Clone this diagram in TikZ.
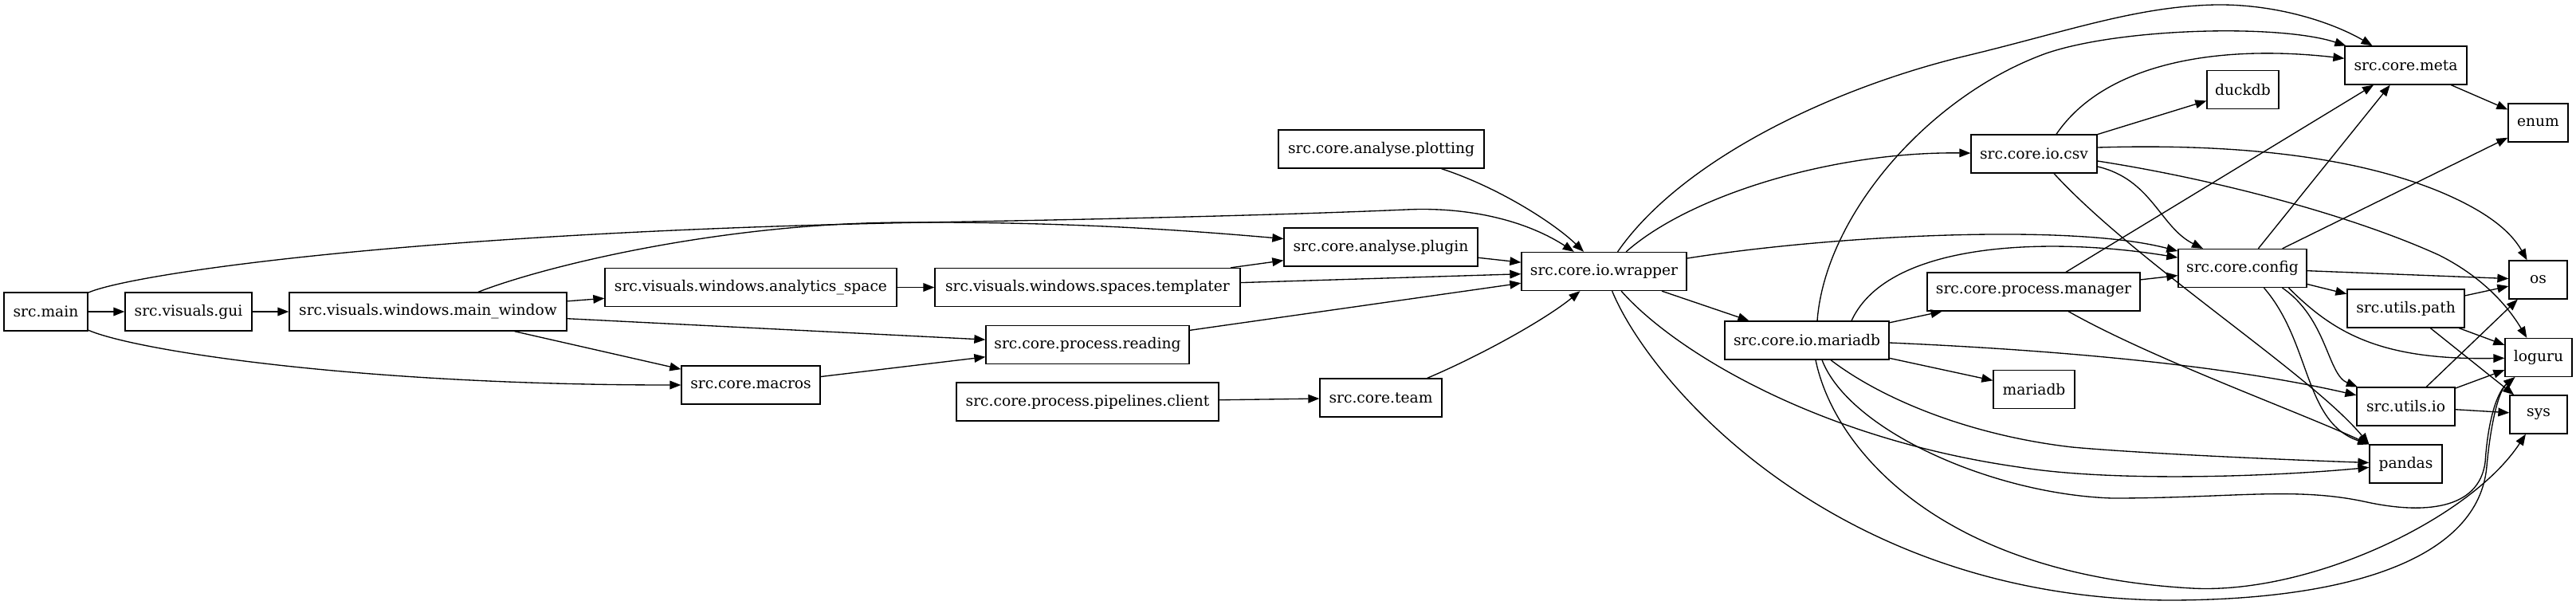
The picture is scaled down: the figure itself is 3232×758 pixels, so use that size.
\documentclass[tikz,border=0pt]{standalone}
\usepackage{fontspec}
\setmainfont{DejaVu Serif}
\usetikzlibrary{arrows.meta,calc}
\begin{document}
\begin{tikzpicture}[x=0.75pt,y=-0.75pt,
  box/.style={draw,line width=1pt,rectangle,minimum height=36pt,inner sep=0pt,font=\fontsize{14}{16}\selectfont},
  dep/.style={line width=1pt,-{Triangle[length=10.5pt,width=8pt]}}]
\useasboundingbox (0,0) rectangle (3232,758);
% nodes
\node[box,minimum width=78.75pt] (main) at (57.5,391) {src.main};
\node[box,minimum width=119.25pt] (gui) at (236.5,391) {src.visuals.gui};
\node[box,minimum width=261pt] (mainwin) at (537,391) {src.visuals.windows.main\_window};
\node[box,minimum width=274.5pt] (analytics) at (942,360.5) {src.visuals.windows.analytics\_space};
\node[box,minimum width=287.25pt] (templater) at (1364.5,360.5) {src.visuals.windows.spaces.templater};
\node[box,minimum width=191.25pt] (reading) at (1364.5,432.5) {src.core.process.reading};
\node[box,minimum width=130.5pt] (macros) at (942,483) {src.core.macros};
\node[box,minimum width=246.75pt] (client) at (1364.5,504) {src.core.process.pipelines.client};
\node[box,minimum width=193.5pt] (plotting) at (1733,187) {src.core.analyse.plotting};
\node[box,minimum width=182.25pt] (plugin) at (1732.5,310) {src.core.analyse.plugin};
\node[box,minimum width=155.25pt] (wrapper) at (2012.5,340.5) {src.core.io.wrapper};
\node[box,minimum width=114.75pt] (team) at (1732.5,499) {src.core.team};
\node[box,minimum width=118.5pt] (csv) at (2552,193) {src.core.io.csv};
\node[box,minimum width=200.25pt] (manager) at (2551.5,366) {src.core.process.manager};
\node[box,minimum width=154.5pt] (iomariadb) at (2267,427) {src.core.io.mariadb};
\node[box,minimum width=76.5pt] (mariadb) at (2552,488.5) {mariadb};
\node[box,minimum width=67.5pt] (duckdb) at (2814,112.5) {duckdb};
\node[box,minimum width=114.75pt] (meta) at (3018.5,82) {src.core.meta};
\node[box,minimum width=120.75pt] (config) at (2813.5,336.5) {src.core.config};
\node[box,minimum width=56.25pt] (enum) at (3184.5,154) {enum};
\node[box,minimum width=54.75pt] (os) at (3184.5,351) {os};
\node[box,minimum width=110.25pt] (path) at (3018.5,387) {src.utils.path};
\node[box,minimum width=63pt] (loguru) at (3185,448.5) {loguru};
\node[box,minimum width=92.25pt] (utilsio) at (3018.5,510) {src.utils.io};
\node[box,minimum width=54pt] (sys) at (3185,520) {sys};
\node[box,minimum width=68.25pt] (pandas) at (3018.5,582) {pandas};
% edges
\draw[dep] (main) -- (gui);
\draw[dep] (gui) -- (mainwin);
\draw[dep] (main) .. controls (160,345) and (500,292) .. (1159,279) .. controls (1450,274) and (1650,268) .. (1764,263) .. controls (1850,259) and (1920,280) .. (wrapper);
\draw[dep] (main) .. controls (170,440) and (450,483) .. (macros);
\draw[dep] (mainwin) -- (analytics);
\draw[dep] (mainwin) .. controls (680,335) and (900,280) .. (1134,279) .. controls (1350,278) and (1500,290) .. (plugin);
\draw[dep] (mainwin) -- (reading);
\draw[dep] (mainwin) -- (macros);
\draw[dep] (analytics) -- (templater);
\draw[dep] (templater) -- (plugin);
\draw[dep] (templater) -- (wrapper);
\draw[dep] (macros) -- (reading);
\draw[dep] (reading) -- (wrapper);
\draw[dep] (plotting) .. controls (1880,235) and (1950,280) .. (wrapper);
\draw[dep] (plugin) -- (wrapper);
\draw[dep] (client) -- (team);
\draw[dep] (team) .. controls (1860,445) and (1940,400) .. (wrapper);
\draw[dep] (wrapper) .. controls (2120,245) and (2300,190) .. (csv);
\draw[dep] (wrapper) .. controls (2110,200) and (2300,110) .. (2467,70) .. controls (2592,40) and (2680,8) .. (2780,6) .. controls (2860,5) and (2930,30) .. (meta);
\draw[dep] (wrapper) .. controls (2300,295) and (2600,280) .. (config);
\draw[dep] (wrapper) -- (iomariadb);
\draw[dep] (wrapper) .. controls (2100,440) and (2280,550) .. (2533,586) .. controls (2650,605) and (2850,598) .. (pandas);
\draw[dep] (wrapper) .. controls (2070,480) and (2300,750) .. (2720,753) .. controls (2950,753) and (3110,700) .. (3120,585) .. controls (3125,530) and (3135,490) .. (loguru);
\draw[dep] ($(iomariadb.north)+(13,0)$) .. controls (2290,270) and (2420,120) .. (2567,67) .. controls (2660,35) and (2860,30) .. (meta);
\draw[dep] ($(iomariadb.north)+(56,0)$) .. controls (2370,300) and (2580,298) .. (config);
\draw[dep] (iomariadb) -- (manager);
\draw[dep] (iomariadb) -- (mariadb);
\draw[dep] ($(iomariadb.east)+(0,3)$) .. controls (2600,440) and (2800,460) .. (utilsio);
\draw[dep] ($(iomariadb.south)+(30,0)$) .. controls (2360,500) and (2470,546) .. (2600,561) .. controls (2700,570) and (2900,578) .. (pandas);
\draw[dep] ($(iomariadb.south)+(19,0)$) .. controls (2320,540) and (2500,620) .. (2650,625) .. controls (2800,625) and (2880,610) .. (2970,630) .. controls (3040,645) and (3110,640) .. (3118,580) .. controls (3122,520) and (3135,490) .. (loguru);
\draw[dep] ($(iomariadb.south)+(11,0)$) .. controls (2300,560) and (2430,720) .. (2750,738) .. controls (2900,746) and (3100,650) .. (sys);
\draw[dep] ($(csv.north)+(28,0)$) .. controls (2640,80) and (2780,55) .. (meta);
\draw[dep] (csv) -- (duckdb);
\draw[dep] ($(csv.east)+(0,16)$) .. controls (2700,225) and (2710,285) .. (config);
\draw[dep] ($(csv.east)+(0,-8)$) .. controls (2800,180) and (2950,195) .. (3060,240) .. controls (3120,265) and (3150,290) .. (os);
\draw[dep] ($(csv.east)+(0,9)$) .. controls (2780,225) and (2950,270) .. (3060,320) .. controls (3120,350) and (3150,390) .. (loguru);
\draw[dep] ($(csv.south)+(25,0)$) .. controls (2680,330) and (2900,470) .. (pandas.north west);
\draw[dep] (manager) -- (meta);
\draw[dep] (manager) -- (config);
\draw[dep] (manager) .. controls (2700,450) and (2880,515) .. (pandas.north west);
\draw[dep] (config) -- (meta);
\draw[dep] (config) -- (enum);
\draw[dep] (config) -- (os);
\draw[dep] (config) -- (path);
\draw[dep] ($(config.south)+(50,0)$) .. controls (2920,400) and (2920,470) .. (utilsio);
\draw[dep] ($(config.south)+(58,0)$) .. controls (2930,420) and (2990,452) .. (loguru);
\draw[dep] ($(config.south)+(27,0)$) .. controls (2900,430) and (2890,530) .. (pandas.north west);
\draw[dep] (meta) -- (enum);
\draw[dep] (path) -- (os);
\draw[dep] (path) -- (loguru);
\draw[dep] (path) -- (sys);
\draw[dep] (utilsio) -- (os);
\draw[dep] (utilsio) -- (loguru);
\draw[dep] (utilsio) -- (sys);
\end{tikzpicture}
\end{document}
